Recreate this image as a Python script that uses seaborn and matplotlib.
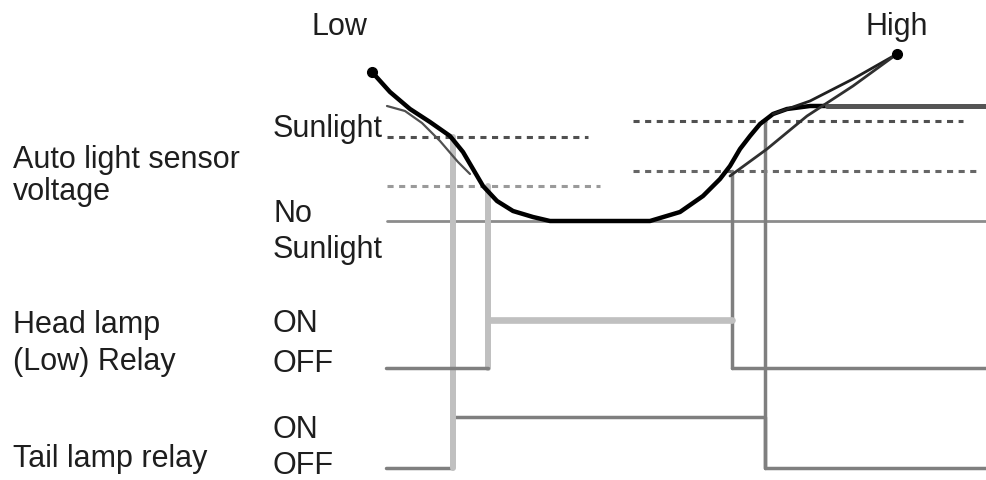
import matplotlib
matplotlib.use('Agg')
import matplotlib.pyplot as plt
import seaborn as sns
import pandas as pd

# time axis is in drawing units (0..986), signal levels in drawing rows (0 at top)
# auto light sensor voltage curve (dusk -> night -> dawn)
sensor_t = [372, 390, 410, 430, 450, 463, 473, 483, 497, 513, 533, 550,
            650, 680, 703, 720, 730, 740, 750, 760, 773, 787, 810, 827]
sensor_v = [73, 93, 110, 123, 137, 153, 170, 187, 202, 212, 218, 222,
            222, 213, 197, 180, 167, 150, 137, 125, 115, 110, 107, 107]
# hysteresis return paths
dusk_ret_t = [387, 405, 422, 440, 458, 470]
dusk_ret_v = [107, 112, 124, 142, 163, 175]
dawn_a_t = [773, 810, 853, 897]
dawn_a_v = [115, 102, 80, 55]
dawn_b_t = [730, 767, 807, 853, 897]
dawn_b_v = [177, 150, 117, 87, 55]
day_level_t = [827, 986]
day_level_v = [107, 107]

# thresholds: (start, end, level)
thr_tail_dusk = (387, 588, 138)
thr_head_dusk = (387, 600, 187)
thr_tail_dawn = (633, 963, 122)
thr_head_dawn = (633, 977, 172)
no_sun_level = (387, 986, 222)

# relay switching times and levels
t_start, t_end = 386, 986
tail_on_t, head_on_t, head_off_t, tail_off_t = 453, 488, 732, 765
head_on_lvl, head_off_lvl = 321, 369
tail_on_lvl, tail_off_lvl = 418, 469

DARK = '#7f7f7f'
LIGHT = '#c0c0c0'
TXT = '#1e1e1e'

sns.set_theme(style='white')
plt.rcParams['font.family'] = ['Liberation Sans', 'DejaVu Sans']

fig = plt.figure(figsize=(9.86, 4.81), dpi=100)
ax = fig.add_axes([0, 0, 1, 1])

# threshold dashed lines
for (x0, x1, y), col in [(thr_tail_dusk, '#505050'), (thr_head_dusk, '#9a9a9a'),
                         (thr_tail_dawn, '#505050'), (thr_head_dawn, '#666666')]:
    ax.plot([x0, x1], [y, y], color=col, lw=2.2, dashes=(2, 1.8))
ax.plot(no_sun_level[:2], [no_sun_level[2]] * 2, color='#8c8c8c', lw=2)

# tail lamp relay
tail = pd.DataFrame({'t': [t_start, tail_on_t, tail_on_t, tail_off_t, tail_off_t, t_end],
                     'v': [tail_off_lvl, tail_off_lvl, tail_on_lvl, tail_on_lvl,
                           tail_off_lvl, tail_off_lvl]})
sns.lineplot(data=tail, x='t', y='v', sort=False, estimator=None, color=DARK, lw=2.5, ax=ax)

# guide verticals from threshold crossing down to relays
ax.plot([tail_on_t, tail_on_t], [thr_tail_dusk[2], tail_off_lvl], color=LIGHT, lw=4.3)
ax.plot([head_on_t, head_on_t], [thr_head_dusk[2], head_off_lvl], color=LIGHT, lw=4.3)
ax.plot([head_off_t, head_off_t], [thr_head_dawn[2], head_off_lvl], color=DARK, lw=2.5)
ax.plot([tail_off_t, tail_off_t], [thr_tail_dawn[2], tail_off_lvl], color=DARK, lw=2.5)

# head lamp relay
ax.plot([t_start, head_on_t], [head_off_lvl] * 2, color=DARK, lw=2.5)
ax.plot([head_on_t, head_off_t], [head_on_lvl] * 2, color=LIGHT, lw=4.8)
ax.plot([head_off_t, t_end], [head_off_lvl] * 2, color=DARK, lw=2.5)

# sensor voltage
sensor = pd.DataFrame({'t': sensor_t, 'v': sensor_v})
sns.lineplot(data=sensor, x='t', y='v', sort=False, estimator=None, color='black', lw=3.2, ax=ax)
ax.plot(dusk_ret_t, dusk_ret_v, color='#505050', lw=1.6)
ax.plot(dawn_a_t, dawn_a_v, color='#202020', lw=2)
ax.plot(dawn_b_t, dawn_b_v, color='#303030', lw=2)
ax.plot(day_level_t, day_level_v, color='#555555', lw=3.6)
ax.plot([sensor_t[0], dawn_a_t[-1]], [sensor_v[0], dawn_a_v[-1]], 'o', color='black', ms=7, ls='none')

ax.set_xlim(0, 986)
ax.set_ylim(481, 0)
ax.axis('off')

fs = 22
labels = [
    (311, 35, 'Low'), (866, 35, 'High'),
    (273, 137, 'Sunlight'), (273, 222, 'No'), (273, 258, 'Sunlight'),
    (273, 332, 'ON'), (273, 372, 'OFF'), (273, 438, 'ON'), (273, 474, 'OFF'),
    (13, 168, 'Auto light sensor'), (13, 200, 'voltage'),
    (13, 333, 'Head lamp'), (13, 370, '(Low) Relay'),
    (13, 467, 'Tail lamp relay'),
]
for x, y, s in labels:
    ax.text(x, y, s, fontsize=fs, color=TXT, ha='left', va='baseline')

fig.savefig('out.png', dpi=100)
